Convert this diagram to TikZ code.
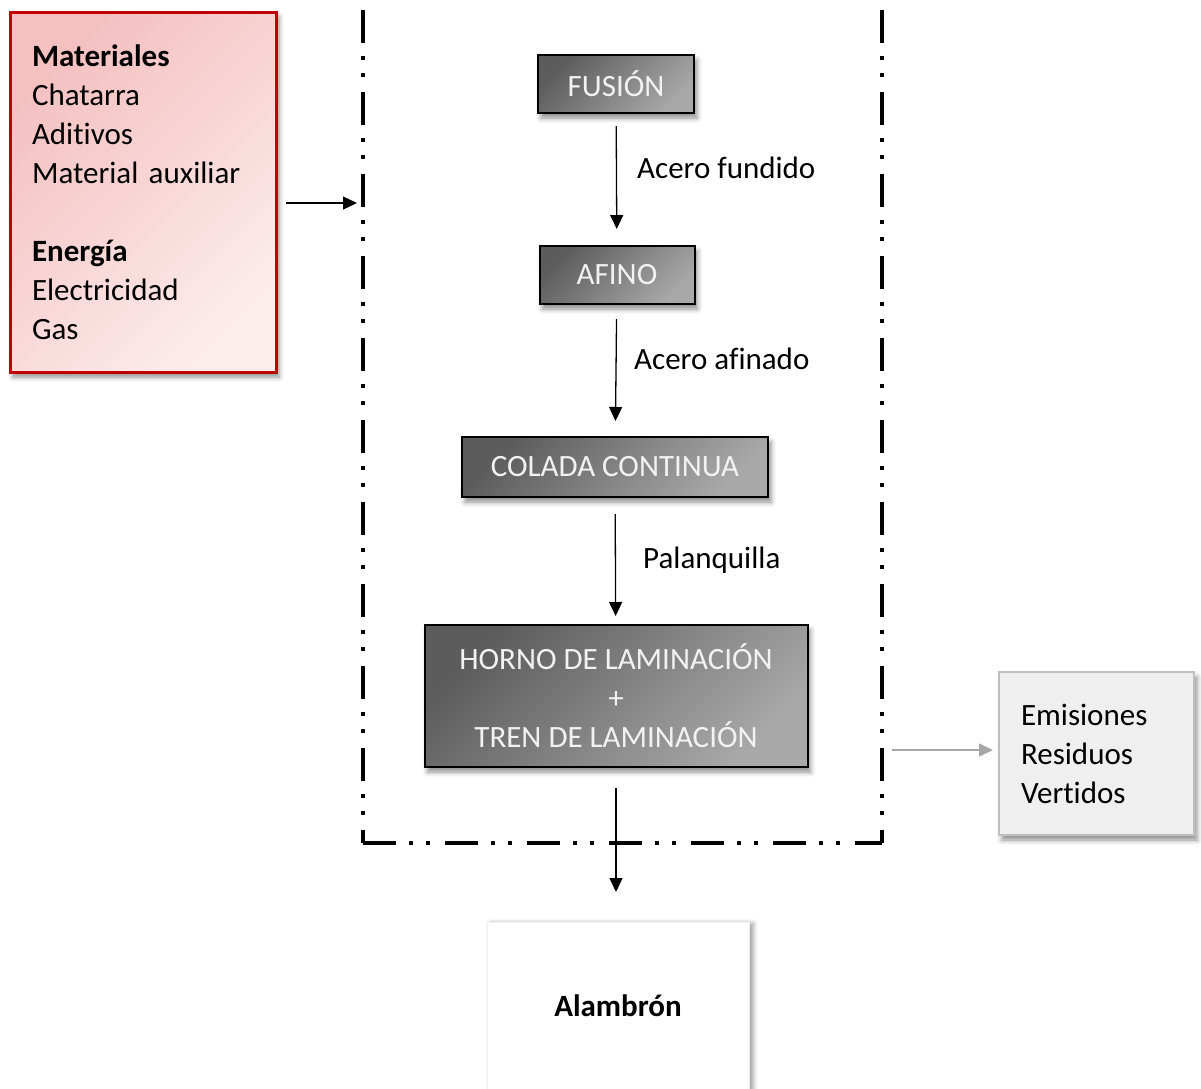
\documentclass[tikz,border=0pt]{standalone}
\usepackage{fontspec}
\setmainfont{Carlito}[Ligatures={NoCommon}]
\usetikzlibrary{arrows.meta,shadows,shadows.blur}
\definecolor{reddraw}{HTML}{C00000}
\definecolor{redA}{HTML}{F4C0C0}
\definecolor{redB}{HTML}{FDECEC}
\definecolor{grayA}{HTML}{5C5C5C}
\definecolor{grayB}{HTML}{A8A8A8}
\definecolor{emisfill}{HTML}{EFEFEF}
\definecolor{emisdraw}{HTML}{BFBFBF}
\definecolor{outarrow}{HTML}{A6A6A6}
\begin{document}
\begin{tikzpicture}[x=1pt,y=-1pt,
  font=\fontsize{31}{39}\selectfont,
  softshadow/.style={blur shadow={shadow xshift=3pt,shadow yshift=-5pt,shadow blur radius=5pt,shadow opacity=45}},
  procbox/.style={draw=black,line width=2pt,top color=grayA,bottom color=grayB,shading angle=45,
    text=white!95!black,inner sep=0pt,align=center,softshadow},
  flow/.style={-{Triangle[length=14pt,width=13pt]},line width=1.3pt},
  flowlabel/.style={anchor=west,inner sep=0pt},
  boundary/.style={line width=4pt,dash pattern=on 33pt off 13pt on 4pt off 13pt on 4pt off 15pt},
]
\clip (0,0) rectangle (1201,1088);
\useasboundingbox (0,0) rectangle (1201,1088);

% input box
\node[draw=reddraw,line width=3pt,top color=redA,bottom color=redB,shading angle=45,
  minimum width=266pt,minimum height=360pt,text width=222pt,align=left,inner xsep=22pt,inner ysep=0pt,softshadow]
  (inp) at (143,192) {\textbf{Materiales}\\Chatarra\\Aditivos\\Material auxiliar\\[39pt]\textbf{Energía}\\Electricidad\\Gas};

% boundary
\coordinate (tl) at (363,10);
\coordinate (bl) at (363,843);
\coordinate (tr) at (882,10);
\coordinate (br) at (882,843);
\draw[boundary] (tl) -- (bl);
\draw[boundary] (tr) -- (br);
\draw[boundary] (bl) -- (br);

% process boxes
\node[procbox,minimum width=156pt,minimum height=58pt] (fus) at (616,84) {FUSIÓN};
\node[procbox,minimum width=155pt,minimum height=58pt] (afi) at (617,275) {AFINO};
\node[procbox,minimum width=306pt,minimum height=60pt] (col) at (615,467) {COLADA CONTINUA};
\node[procbox,minimum width=383pt,minimum height=142pt] (hor) at (616,696) {HORNO DE LAMINACIÓN\\+\\TREN DE LAMINACIÓN};

% product box
\node[fill=white,draw=black!6,line width=1pt,minimum width=262pt,minimum height=180pt,anchor=north,
  blur shadow={shadow xshift=4pt,shadow yshift=-1pt,shadow blur radius=5pt,shadow opacity=40}] (alb) at (618,922) {};
\node[font=\fontsize{31}{39}\selectfont\bfseries] (albt) at (618,1006) {Alambrón};

% output box
\node[draw=emisdraw,line width=2pt,fill=emisfill,minimum width=195pt,minimum height=163pt,
  text width=151pt,align=left,inner xsep=22pt,inner ysep=0pt,softshadow]
  (emi) at (1096.5,753.5) {Emisiones\\Residuos\\Vertidos};

% flows
\draw[flow,shorten <=12pt,shorten >=16pt] (fus) -- (afi);
\draw[flow,shorten <=14pt,shorten >=15pt] (afi) -- (col);
\draw[flow,shorten <=16pt,shorten >=8pt] (col) -- (hor);
\draw[flow,shorten <=20pt,shorten >=30pt] (hor) -- (alb.north -| hor.south);

\node[flowlabel] (l1) at (637,168) {Acero fundido};
\node[flowlabel] (l2) at (634,359) {Acero afinado};
\node[flowlabel] (l3) at (643,560) {Palanquilla};

\coordinate (inb) at (361,203);
\draw[flow,shorten <=8pt,shorten >=4pt] (inp.east |- inb) -- (inb);
\coordinate (outb) at (884,750);
\draw[flow,draw=outarrow,fill=outarrow,line width=1.5pt,shorten <=8pt,shorten >=5pt] (outb) -- (outb -| emi.west);
\end{tikzpicture}
\end{document}
